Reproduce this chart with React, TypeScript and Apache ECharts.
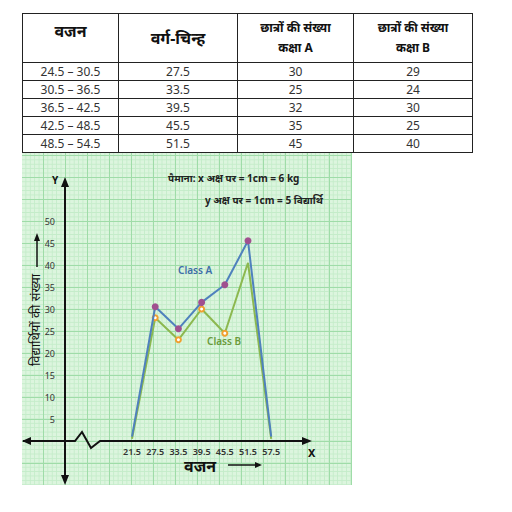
import React, { useEffect, useRef } from "react";
import * as echarts from "echarts";

const headers = ["वजन", "वर्ग-चिन्ह", "छात्रों की संख्या\nकक्षा A", "छात्रों की संख्या\nकक्षा B"];
const ranges = ["24.5 – 30.5", "30.5 – 36.5", "36.5 – 42.5", "42.5 – 48.5", "48.5 – 54.5"];
const marks = ["27.5", "33.5", "39.5", "45.5", "51.5"];
const classA = [30, 25, 32, 35, 45];
const classB = [29, 24, 30, 25, 40];

const xPoints = [21.5, 27.5, 33.5, 39.5, 45.5, 51.5, 57.5];
const plotA = [1, 30.5, 25.5, 31.5, 35.5, 45.5, 1];
const plotB = [1, 28.5, 24.5, 30.5, 25, 41, 1];
const yTicks = [5, 10, 15, 20, 25, 30, 35, 40, 45, 50];

const font = "'Noto Sans', 'DejaVu Sans', sans-serif";
const colW = [96, 119, 116, 119];

function Table() {
  const cell: React.CSSProperties = { border: "1px solid #222", textAlign: "center", padding: 0, fontSize: 12, color: "#333" };
  return (
    <table style={{ position: "absolute", left: 22, top: 13, borderCollapse: "collapse", fontFamily: font, tableLayout: "fixed", width: 450 }}>
      <colgroup>{colW.map((w, i) => <col key={i} style={{ width: w }} />)}</colgroup>
      <thead>
        <tr style={{ height: 49 }}>
          {headers.map((h, i) => (
            <th key={i} style={{ ...cell, fontSize: i < 2 ? 16 : 12, fontWeight: 700, color: "#111", verticalAlign: i === 0 ? "top" : "middle", whiteSpace: "pre-line", lineHeight: i < 2 ? "22px" : "20px", paddingTop: i === 0 ? 6 : 0 }}>{h}</th>
          ))}
        </tr>
      </thead>
      <tbody>
        {ranges.map((r, i) => (
          <tr key={i} style={{ height: 16 }}>
            <td style={cell}>{r}</td>
            <td style={cell}>{marks[i]}</td>
            <td style={cell}>{classA[i]}</td>
            <td style={cell}>{classB[i]}</td>
          </tr>
        ))}
      </tbody>
    </table>
  );
}

export default function App() {
  const ref = useRef<HTMLDivElement>(null);
  useEffect(() => {
    if (!ref.current) return;
    const chart = echarts.init(ref.current, null, { renderer: "svg" });
    const pt = (x: number, y: number, show: boolean) => ({ value: [x, y], symbol: show ? undefined : "none" });
    chart.setOption({
      animation: false,
      grid: { left: 43, right: 45, top: 24, bottom: 44 },
      xAxis: {
        type: "value", min: 4.17, max: 66.76,
        splitLine: { show: false }, axisLine: { show: false }, axisTick: { show: false },
        axisLabel: { customValues: xPoints, formatter: (v: number) => v.toFixed(1), fontSize: 9, color: "#333", fontWeight: 600, margin: 6, fontFamily: font },
      },
      yAxis: {
        type: "value", min: 0, max: 60,
        splitLine: { show: false }, axisLine: { show: false }, axisTick: { show: false },
        axisLabel: { customValues: yTicks, fontSize: 9, color: "#333", margin: 10, fontFamily: font },
      },
      series: [
        {
          type: "line", data: xPoints.map((x, i) => pt(x, plotA[i], i > 0 && i < 6)),
          lineStyle: { color: "#4f81bd", width: 2 }, symbol: "circle", symbolSize: 7,
          itemStyle: { color: "#a0508f" }, z: 3,
        },
        {
          type: "line", data: xPoints.map((x, i) => pt(x, plotB[i] - (i === 2 ? 1.5 : 0.5), i > 0 && i < 5)),
          lineStyle: { color: "#8cb84f", width: 2 }, symbol: "emptyCircle", symbolSize: 5,
          itemStyle: { color: "#f0a030" }, z: 2,
        },
      ],
      graphic: [
        { type: "polyline", shape: { points: [[1, 288], [43, 288], [53, 288], [60, 279], [69, 295], [78, 288], [283, 288]] }, style: { stroke: "#111", lineWidth: 2, fill: "none" } },
        { type: "polygon", shape: { points: [[290, 288], [280, 284], [280, 292]] }, style: { fill: "#111" } },
        { type: "polygon", shape: { points: [[0, 288], [9, 284], [9, 292]] }, style: { fill: "#111" } },
        { type: "line", shape: { x1: 43, y1: 30, x2: 43, y2: 326 }, style: { stroke: "#111", lineWidth: 2 } },
        { type: "polygon", shape: { points: [[43, 24], [39, 34], [47, 34]] }, style: { fill: "#111" } },
        { type: "polygon", shape: { points: [[43, 332], [39, 322], [47, 322]] }, style: { fill: "#111" } },
        { type: "text", x: 30, y: 22, style: { text: "Y", fontSize: 10, fontWeight: 700, fill: "#111", fontFamily: font } },
        { type: "text", x: 286, y: 294, style: { text: "X", fontSize: 11, fontWeight: 700, fill: "#111", fontFamily: font } },
        { type: "text", x: 162, y: 305, style: { text: "वजन", fontSize: 16, fontWeight: 700, fill: "#111", fontFamily: font } },
        { type: "line", shape: { x1: 206, y1: 312, x2: 234, y2: 312 }, style: { stroke: "#111", lineWidth: 1.5 } },
        { type: "polygon", shape: { points: [[240, 312], [233, 309], [233, 315]] }, style: { fill: "#111" } },
        { type: "text", x: 13, y: 167, rotation: Math.PI / 2, style: { text: "विद्यार्थियों की संख्या", fontSize: 13, fill: "#111", fontFamily: font, align: "center", verticalAlign: "middle" } },
        { type: "line", shape: { x1: 15, y1: 114, x2: 15, y2: 86 }, style: { stroke: "#111", lineWidth: 1.5 } },
        { type: "polygon", shape: { points: [[15, 80], [12, 88], [18, 88]] }, style: { fill: "#111" } },
        { type: "text", x: 146, y: 20, style: { text: "पैमाना: x अक्ष पर = 1cm = 6 kg", fontSize: 10, fontWeight: 700, fill: "#222", fontFamily: font } },
        { type: "text", x: 183, y: 42, style: { text: "y अक्ष पर = 1cm = 5 विद्यार्थि", fontSize: 10, fontWeight: 700, fill: "#222", fontFamily: font } },
        { type: "text", x: 156, y: 112, style: { text: "Class A", fontSize: 10, fontWeight: 600, fill: "#3e6ea8", fontFamily: font } },
        { type: "text", x: 185, y: 183, style: { text: "Class B", fontSize: 10, fontWeight: 600, fill: "#6a9a3a", fontFamily: font } },
      ],
    });
    return () => chart.dispose();
  }, []);

  const paper: React.CSSProperties = {
    position: "absolute", left: 22, top: 153, width: 330, height: 332,
    backgroundColor: "#dcf5de",
    backgroundImage:
      "linear-gradient(#9fdca8 1px, transparent 1px), linear-gradient(90deg, #9fdca8 1px, transparent 1px)," +
      "linear-gradient(#c4ecc9 1px, transparent 1px), linear-gradient(90deg, #c4ecc9 1px, transparent 1px)",
    backgroundSize: "22px 22px, 22px 22px, 4.4px 4.4px, 4.4px 4.4px",
    backgroundPosition: "0 2px, 21px 0, 0 2px, 21px 0",
  };

  return (
    <div style={{ position: "fixed", left: 0, top: 0, width: 512, height: 512, background: "#fff" }}>
      <Table />
      <div ref={ref} style={paper} />
    </div>
  );
}
